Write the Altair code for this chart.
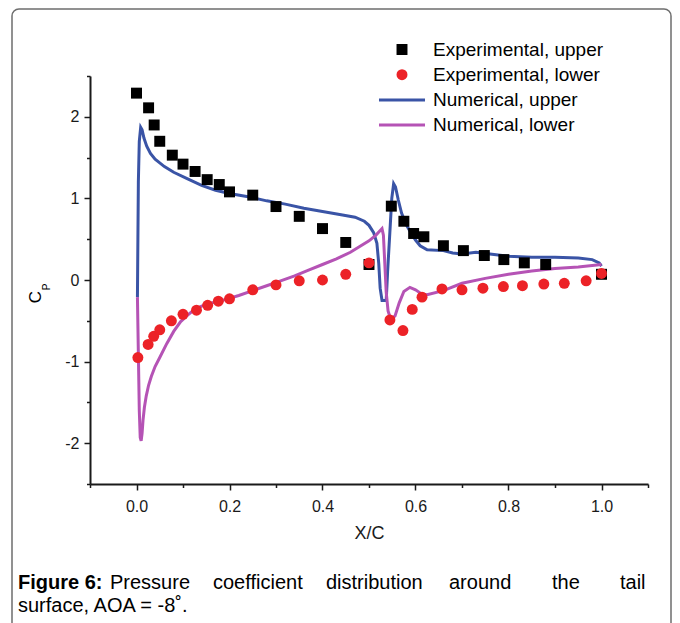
import altair as alt
import pandas as pd

SERIES = ["Experimental, upper", "Experimental, lower", "Numerical, upper", "Numerical, lower"]
COLORS = ["#000000", "#ec2227", "#3a54a6", "#b553b5"]

exp_up_x = [0.0, 0.026, 0.038, 0.05, 0.077, 0.10, 0.126, 0.152, 0.178, 0.20, 0.25, 0.30, 0.35, 0.40, 0.45, 0.50,
            0.548, 0.575, 0.596, 0.618, 0.66, 0.703, 0.748, 0.79, 0.834, 0.88, 1.0]
exp_up_y = [2.29, 2.11, 1.90, 1.70, 1.53, 1.42, 1.33, 1.23, 1.17, 1.08, 1.04, 0.90, 0.78, 0.63, 0.46, 0.19,
            0.905, 0.72, 0.57, 0.53, 0.42, 0.36, 0.30, 0.25, 0.21, 0.19, 0.07]

exp_lo_x = [0.003, 0.025, 0.037, 0.05, 0.075, 0.10, 0.129, 0.153, 0.176, 0.20, 0.25, 0.30, 0.35, 0.40, 0.45, 0.50,
            0.545, 0.573, 0.593, 0.614, 0.657, 0.70, 0.745, 0.789, 0.83, 0.876, 0.92, 0.967, 1.0]
exp_lo_y = [-0.95, -0.79, -0.69, -0.61, -0.50, -0.42, -0.37, -0.31, -0.26, -0.23, -0.12, -0.06, -0.01, 0.0, 0.07, 0.21,
            -0.49, -0.62, -0.36, -0.21, -0.11, -0.12, -0.10, -0.08, -0.07, -0.05, -0.04, -0.01, 0.08]

num_up_x = [0.002, 0.003, 0.004, 0.006, 0.009, 0.012, 0.016, 0.022, 0.03, 0.04, 0.06, 0.08, 0.11, 0.14, 0.17, 0.20,
            0.24, 0.28, 0.32, 0.36, 0.40, 0.44, 0.47, 0.49, 0.50, 0.51, 0.517, 0.521, 0.524, 0.528, 0.537, 0.540,
            0.545, 0.549, 0.553, 0.557, 0.563, 0.57, 0.58, 0.59, 0.60, 0.61, 0.625, 0.66, 0.68, 0.70, 0.73, 0.76,
            0.80, 0.85, 0.90, 0.95, 0.98, 0.995, 1.0]
num_up_y = [-0.21, 0.5, 1.2, 1.7, 1.87, 1.84, 1.74, 1.64, 1.55, 1.48, 1.39, 1.32, 1.24, 1.16, 1.10, 1.06,
            1.02, 0.97, 0.93, 0.88, 0.84, 0.80, 0.77, 0.72, 0.67, 0.58, 0.45, 0.2, -0.1, -0.25, -0.25, 0.1,
            0.6, 1.0, 1.18, 1.14, 0.98, 0.82, 0.68, 0.58, 0.49, 0.42, 0.37, 0.36, 0.33, 0.32, 0.34, 0.32,
            0.29, 0.28, 0.28, 0.27, 0.25, 0.21, 0.17]

num_lo_x = [0.002, 0.004, 0.006, 0.008, 0.010, 0.012, 0.014, 0.017, 0.021, 0.026, 0.032, 0.04, 0.05, 0.065, 0.08,
            0.095, 0.11, 0.125, 0.14, 0.16, 0.19, 0.22, 0.25, 0.28, 0.31, 0.34, 0.37, 0.40, 0.43, 0.46, 0.48,
            0.50, 0.515, 0.528, 0.531, 0.534, 0.537, 0.541, 0.545, 0.55, 0.556, 0.565, 0.575, 0.588, 0.60,
            0.613, 0.625, 0.66, 0.70, 0.75, 0.80, 0.85, 0.90, 0.95, 1.0]
num_lo_y = [-0.21, -0.9, -1.6, -1.93, -1.97, -1.88, -1.72, -1.56, -1.42, -1.29, -1.18, -1.06, -0.95, -0.78, -0.63,
            -0.51, -0.43, -0.36, -0.32, -0.285, -0.24, -0.19, -0.13, -0.07, -0.01, 0.05, 0.12, 0.19, 0.26, 0.34,
            0.41, 0.48, 0.55, 0.63, 0.55, 0.2, -0.15, -0.38, -0.45, -0.47, -0.44, -0.28, -0.14, -0.09, -0.12,
            -0.17, -0.18, -0.13, -0.04, 0.02, 0.07, 0.11, 0.14, 0.16, 0.19]

x_ticks = [-0.1, 0.0, 0.1, 0.2, 0.3, 0.4, 0.5, 0.6, 0.7, 0.8, 0.9, 1.0, 1.1]
y_ticks = [-2.5, -2.0, -1.5, -1.0, -0.5, 0.0, 0.5, 1.0, 1.5, 2.0, 2.5]

pts = pd.concat([
    pd.DataFrame({"x": exp_up_x, "y": exp_up_y, "series": SERIES[0]}),
    pd.DataFrame({"x": exp_lo_x, "y": exp_lo_y, "series": SERIES[1]}),
], ignore_index=True)

line_up = pd.DataFrame({"x": num_up_x, "y": num_up_y, "i": range(len(num_up_x))})
line_lo = pd.DataFrame({"x": num_lo_x, "y": num_lo_y, "i": range(len(num_lo_x))})

FONT = "Liberation Sans"
INK = "#1a1a1a"

xscale = alt.Scale(domain=[-0.1, 1.1], nice=False, zero=False)
yscale = alt.Scale(domain=[-2.5, 2.5], nice=False, zero=False)

xaxis = alt.Axis(
    values=x_ticks, title="X/C", grid=False,
    labelExpr="abs(round(datum.value*10)) % 2 == 1 ? '' : format(datum.value, '.1f')",
    tickSize={"condition": {"test": "abs(round(datum.value*10)) % 2 == 1", "value": 3.5}, "value": 6},
    tickWidth=1.5, tickColor=INK, domainColor=INK, domainWidth=2,
    labelFont=FONT, labelFontSize=16, labelColor=INK, labelPadding=8,
    titleFont=FONT, titleFontSize=18, titleFontWeight="normal", titleColor=INK, titlePadding=10,
)
yaxis = alt.Axis(
    values=y_ticks, title=None, grid=False,
    labelExpr="datum.value % 1 != 0 ? '' : '' + datum.value",
    tickSize={"condition": {"test": "datum.value % 1 != 0", "value": 3.5}, "value": 6},
    tickWidth=1.5, tickColor=INK, domainColor=INK, domainWidth=2,
    labelFont=FONT, labelFontSize=16, labelColor=INK, labelPadding=5,
)

color_scale = alt.Scale(domain=SERIES, range=COLORS)
line_path = "M-4.2,-0.27H4.2V0.27H-4.2Z"
shape_scale = alt.Scale(domain=SERIES, range=["square", "circle", line_path, line_path])

legend = alt.Legend(
    title=None, orient="none", legendX=302.5, legendY=-36, padding=0,
    labelFont=FONT, labelFontSize=19, labelColor="#000000", labelOffset=21.5,
    rowPadding=5.2, symbolSize=120, labelLimit=400, symbolStrokeWidth=0,
)

one = pd.DataFrame({"k": [0]})

frame = alt.Chart(one).mark_rect(
    fill=None, fillOpacity=0, stroke="#6e6e6e", strokeWidth=1.5, cornerRadius=7
).encode(x=alt.value(-78), x2=alt.value(581), y=alt.value(-67), y2=alt.value(580))

def line_layer(df, color):
    return alt.Chart(df).mark_line(strokeWidth=3, clip=True, color=color).encode(
        x=alt.X("x:Q", scale=xscale, axis=xaxis),
        y=alt.Y("y:Q", scale=yscale, axis=yaxis),
        order="i:Q",
    )

point_layer = alt.Chart(pts).mark_point(filled=True, size=120, opacity=1).encode(
    x=alt.X("x:Q", scale=xscale, axis=xaxis),
    y=alt.Y("y:Q", scale=yscale, axis=yaxis),
    color=alt.Color("series:N", scale=color_scale, legend=legend),
    shape=alt.Shape("series:N", scale=shape_scale, legend=legend),
)

def txt(s, x, y, size=20, weight="normal", angle=0, align="left"):
    return alt.Chart(one).mark_text(
        text=s, font=FONT, fontSize=size, fontWeight=weight, color="#000000",
        align=align, baseline="middle", angle=angle,
    ).encode(x=alt.value(x), y=alt.value(y))

ytitle_c = txt("C", -54, 221, size=17, angle=270, align="center")
ytitle_p = txt("P", -43, 211, size=10, angle=270, align="center")

caption = [
    txt("Figure 6:", -72, 507, weight="bold"),
    txt("Pressure", 20, 507),
    txt("coefficient", 123, 507),
    txt("distribution", 236, 507),
    txt("around", 359, 507),
    txt("the", 462, 507),
    txt("tail", 530, 507),
    txt("surface, AOA = -8˚.", -72, 530),
]

chart = alt.layer(
    frame, line_layer(line_up, COLORS[2]), line_layer(line_lo, COLORS[3]), point_layer,
    ytitle_c, ytitle_p, *caption
).properties(
    width=558, height=408,
    autosize=alt.AutoSizeParams(type="none"),
    padding={"left": 90, "top": 76, "right": 32, "bottom": 139},
    background="white",
).configure_view(stroke=None)

chart.save("out.html", embed_options={"renderer": "svg", "actions": False})
